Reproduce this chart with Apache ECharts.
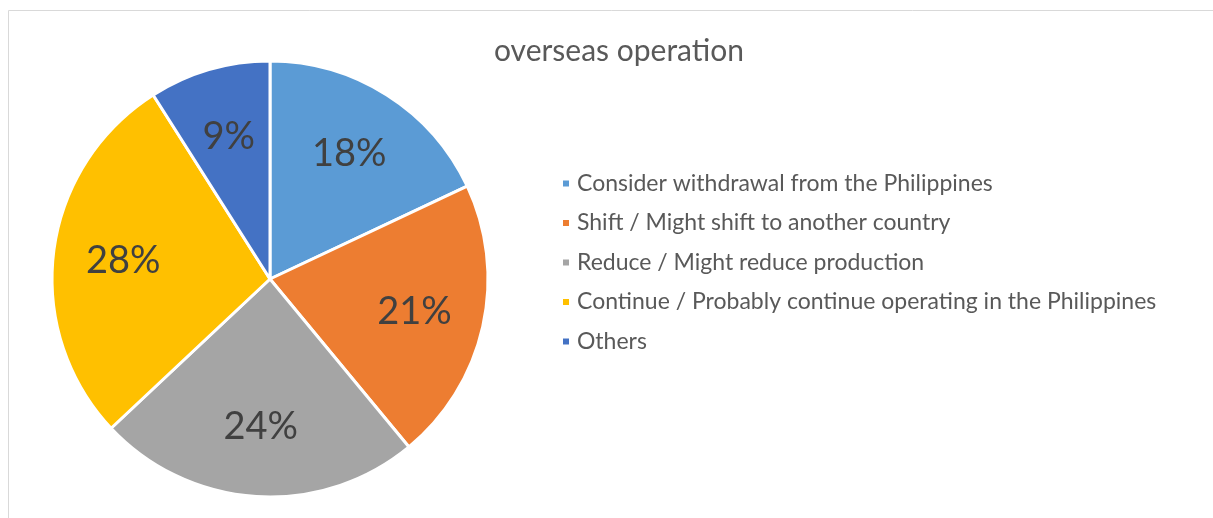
<!DOCTYPE html>
<html><head><meta charset="utf-8">
<script src="https://cdn.jsdelivr.net/npm/echarts@6/dist/echarts.min.js"></script>
<style>html,body{margin:0;padding:0;background:#fff}#c{width:1213px;height:518px}</style>
</head><body><div id="c"></div>
<script>
const titleText = "overseas operation";
const categories = [
  "Consider withdrawal from the Philippines",
  "Shift / Might shift to another country",
  "Reduce / Might reduce production",
  "Continue / Probably continue operating in the Philippines",
  "Others"
];
const values = [18, 21, 24, 28, 9];
const colors = ["#5B9BD5", "#ED7D31", "#A5A5A5", "#FFC000", "#4472C4"];

const data = categories.map((n, i) => ({name: n, value: values[i], itemStyle: {color: colors[i]}}));
const font = "Lato, 'Open Sans', sans-serif";
const chart = echarts.init(document.getElementById('c'));
chart.setOption({
  animation: false,
  graphic: [{type: 'rect', shape: {x: 8.5, y: 10.5, width: 1300, height: 600}, style: {fill: 'none', stroke: '#d9d9d9', lineWidth: 1}, silent: true}],
  title: {text: titleText, left: 614, top: 31, textAlign: 'center',
    textStyle: {fontFamily: font, fontSize: 30, fontWeight: 'normal', color: '#595959'}},
  legend: {orient: 'vertical', left: 556, top: 167, itemWidth: 8, itemHeight: 8, itemGap: 16.5,
    icon: 'rect', selectedMode: false,
    textStyle: {fontFamily: font, fontSize: 23, color: '#595959', padding: [0,0,0,2]},
    data: categories},
  series: [{
    type: 'pie', center: [270, 279], radius: [0, 218], startAngle: 90, clockwise: true,
    data: data, label: {show: false}, labelLine: {show: false},
    itemStyle: {borderColor: '#fff', borderWidth: 3}, emphasis: {disabled: true}
  }, {
    type: 'pie', center: [270, 279], radius: [0, 290], startAngle: 90, clockwise: true, silent: true,
    data: categories.map((n, i) => ({name: n + ' ', value: values[i]})),
    itemStyle: {color: 'rgba(0,0,0,0)'},
    label: {show: true, position: 'inside', formatter: '{c}%', fontFamily: font, fontSize: 38, color: '#404040'},
    labelLine: {show: false}, emphasis: {disabled: true}
  }]
});
</script></body></html>
